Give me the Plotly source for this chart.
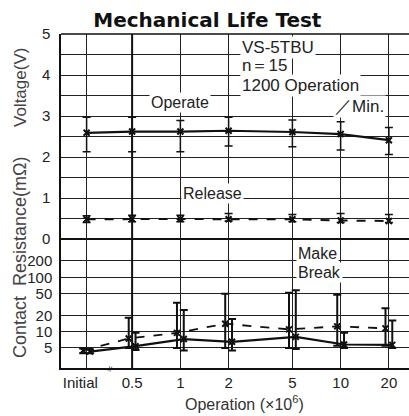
import math
import plotly.graph_objects as go

# ---------------- data ----------------
tick_labels = ["Initial\u00a0\u00a0\u00a0", "0.5", "1", "2", "5", "10", "20"]
operations = [0, 0.5, 1, 2, 5, 10, 20]          # x10^6 operations (0 = initial)
INITIAL_POS = 0.26                               # where "Initial" sits left of the axis break

operate_mean = [2.59, 2.62, 2.62, 2.64, 2.61, 2.56, 2.41]
operate_high = [2.97, 2.97, 2.89, 2.97, 2.90, 2.86, 2.72]
operate_low = [2.13, 2.13, 2.13, 2.27, 2.25, 2.17, 2.06]

release_mean = [0.48, 0.49, 0.49, 0.48, 0.48, 0.45, 0.44]
release_high = [0.57, 0.58, 0.58, 0.62, 0.60, 0.62, 0.60]
release_low = [0.40, 0.42, 0.42, 0.44, 0.42, 0.40, 0.40]

make_mean = [4.5, 7.5, 9.5, 14, 11, 12.5, 11.5]
make_high = [4.9, 18, 34, 50, 52, 48, 27]
make_low = [4.0, 5.0, 5.0, 5.0, 5.0, 5.5, 5.5]

break_mean = [4.3, 5.4, 7.3, 6.5, 8.0, 5.8, 5.7]
break_high = [4.7, 9.5, 25, 17, 58, 9.5, 16]
break_low = [4.0, 4.6, 4.5, 4.5, 4.8, 5.0, 5.0]

volt_ticks = [0, 1, 2, 3, 4, 5]
res_ticks = [5, 10, 20, 50, 100, 200]

# ---------------- helpers ----------------
x_pos = [v if v > 0 else INITIAL_POS for v in operations]
SHIFT = 1.05
x_make = [v / SHIFT for v in x_pos]
x_break = [v * SHIFT for v in x_pos]
L = math.log10


def err(mean, hi, lo, thick):
    return dict(type="data", symmetric=False,
                array=[h - m for h, m in zip(hi, mean)],
                arrayminus=[m - l for m, l in zip(mean, lo)],
                color="#111", thickness=thick, width=4)


FONT = "Liberation Sans, Arial, sans-serif"
GRID = "#222"
MK = dict(symbol="x-thin", size=6, line=dict(width=2, color="#111"))

fig = go.Figure()

fig.add_trace(go.Scatter(x=x_pos, y=operate_mean, mode="lines+markers",
                         line=dict(color="#111", width=2.2), marker=MK,
                         error_y=err(operate_mean, operate_high, operate_low, 1.5),
                         xaxis="x", yaxis="y", name="Operate"))
fig.add_trace(go.Scatter(x=x_pos, y=release_mean, mode="lines+markers",
                         line=dict(color="#111", width=2, dash="dash"), marker=MK,
                         error_y=err(release_mean, release_high, release_low, 1.5),
                         xaxis="x", yaxis="y", name="Release"))
fig.add_trace(go.Scatter(x=x_make, y=make_mean, mode="lines+markers",
                         line=dict(color="#111", width=1.8, dash="dash"), marker=MK,
                         error_y=err(make_mean, make_high, make_low, 2),
                         xaxis="x", yaxis="y2", name="Make"))
fig.add_trace(go.Scatter(x=x_break, y=break_mean, mode="lines+markers",
                         line=dict(color="#111", width=2.2), marker=MK,
                         error_y=err(break_mean, break_high, break_low, 2),
                         xaxis="x", yaxis="y2", name="Break"))

split = 129 / 334

fig.update_layout(
    width=409, height=416,
    margin=dict(l=61, r=0, t=34, b=48),
    paper_bgcolor="white", plot_bgcolor="white",
    showlegend=False,
    font=dict(family=FONT, size=15, color="#222"),
    title=dict(text="<b>Mechanical Life Test</b>", x=0.507, xanchor="center",
               y=0.953, yanchor="middle",
               font=dict(family="DejaVu Sans, Liberation Sans, sans-serif", size=20, color="#111")),
    xaxis=dict(type="log", range=[L(0.18), L(26.7)], anchor="y2",
               tickvals=x_pos, ticktext=tick_labels, ticks="",
               showgrid=True, gridcolor=GRID, gridwidth=1,
               showline=True, linecolor="#111", linewidth=1.5,
               tickfont=dict(size=15, color="#222"),
               zeroline=False),
    yaxis=dict(domain=[split, 1], range=[0, 5], anchor="x",
               tickvals=volt_ticks, ticks="", ticklabelstandoff=6,
               showgrid=True, gridcolor=GRID, gridwidth=1,
               minor=dict(dtick=0.5, showgrid=True, gridcolor=GRID, gridwidth=1),
               showline=True, linecolor="#111", linewidth=1.5, zeroline=False,
               tickfont=dict(size=15, color="#222")),
    yaxis2=dict(domain=[0, split], type="log", range=[L(2.14), L(508)], anchor="x",
                tickvals=res_ticks, ticks="", ticklabelstandoff=4,
                showgrid=True, gridcolor=GRID, gridwidth=1,
                showline=True, linecolor="#111", linewidth=1.5, zeroline=False,
                tickfont=dict(size=15, color="#222")),
)

# heavier rule at 0.5 and at the 0 V / resistance boundary
fig.add_shape(type="line", xref="x", yref="paper", x0=0.5, x1=0.5, y0=0, y1=1,
              line=dict(color="#111", width=2))
fig.add_shape(type="line", xref="paper", yref="paper", x0=0, x1=1, y0=split, y1=split,
              line=dict(color="#111", width=2))
fig.add_shape(type="line", xref="paper", yref="paper", x0=0, x1=1, y0=1, y1=1,
              line=dict(color="#111", width=1.5))

# axis titles (placed as in the reference)
title_font = dict(family=FONT, size=17, color="#444")
fig.add_annotation(text="Voltage(V)", textangle=-90, xref="paper", yref="paper",
                   x=-41 / 348, y=(368 - 88) / 334, xanchor="center", yanchor="middle",
                   showarrow=False, font=title_font)
fig.add_annotation(text="Contact  Resistance(mΩ)", textangle=-90, xref="paper", yref="paper",
                   x=-41 / 348, y=(368 - 257) / 334, xanchor="center", yanchor="middle",
                   showarrow=False, font=dict(family=FONT, size=18, color="#444"))
fig.add_annotation(text="Operation (×10<sup>6</sup>)", xref="paper", yref="paper",
                   x=(244 - 61) / 348, y=(368 - 403) / 334, xanchor="center", yanchor="middle",
                   showarrow=False, font=dict(family=FONT, size=16, color="#333"))

notes = [
    ("Operate", 1.0, 3.34, "y", "center", 16),
    ("Release", 1.58, 1.1, "y", "center", 16),
    ("VS-5TBU", 2.35, 4.68, "y", "left", 17),
    ("n＝15", 2.35, 4.24, "y", "left", 17),
    ("1200 Operation", 2.35, 3.75, "y", "left", 17),
    ("／Min.", 9.0, 3.22, "y", "left", 17),
    ("Make", 5.3, L(270), "y2", "left", 16),
    ("Break", 5.3, L(122), "y2", "left", 16),
]
for txt, xv, yv, yr, anc, sz in notes:
    fig.add_annotation(text=txt, x=L(xv), y=yv, xref="x", yref=yr, xanchor=anc,
                       yanchor="middle", showarrow=False, bgcolor="white",
                       borderpad=1, font=dict(family=FONT, size=sz, color="#222"))

# axis break mark
fig.add_annotation(text="≈", x=L(0.36), y=0, xref="x", yref="paper", showarrow=False,
                   textangle=-70, font=dict(size=10, color="#111"), yanchor="middle")

fig.write_html("out.html", config={"displayModeBar": False},
               post_script="document.body.style.margin='0';")
